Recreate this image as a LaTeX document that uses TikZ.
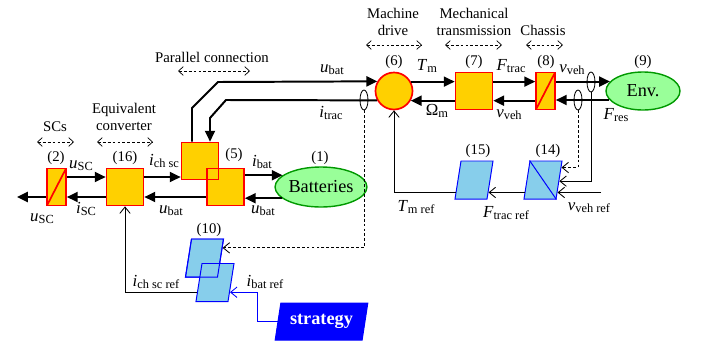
\documentclass[tikz,border=0pt]{standalone}
\usepackage{fontspec}
\setmainfont{Liberation Serif}
\usetikzlibrary{arrows.meta}
\usetikzlibrary{shapes.geometric}
\usetikzlibrary{calc}

\definecolor{blockyellow}{RGB}{255,208,0}
\definecolor{blockred}{RGB}{255,0,0}
\definecolor{envgreen}{RGB}{153,255,153}
\definecolor{envedge}{RGB}{0,153,0}
\definecolor{refblue}{RGB}{135,206,235}
\definecolor{refedge}{RGB}{0,0,255}

\newcommand{\sig}[2]{\textit{#1}\raisebox{-0.3ex}{\fontsize{8.8}{10}\selectfont #2}}

\tikzset{
	power/.style={line width=1.4pt, -{Triangle[length=2.7mm, width=2.5mm]}},
	ctrl/.style={line width=0.6pt, -{Straight Barb[length=1.6mm, width=2.6mm]}},
	sense/.style={ctrl, dash pattern=on 2pt off 1.5pt},
	rangearrow/.style={line width=0.5pt, dash pattern=on 2pt off 1.5pt, {Straight Barb[length=1.2mm, width=2.2mm]}-{Straight Barb[length=1.2mm, width=2.2mm]}},
	yblock/.style={draw=blockred, fill=blockyellow, line width=1.2pt, minimum width=0.925cm, minimum height=0.925cm, inner sep=0pt},
	convblock/.style={yblock, minimum width=0.475cm, path picture={\draw[blockred, line width=1.2pt] (path picture bounding box.south west) -- (path picture bounding box.north east);}},
	source/.style={ellipse, draw=envedge, fill=envgreen, line width=1pt, inner sep=0pt, font=\fontsize{13}{15}\selectfont},
	refblock/.style={trapezium, trapezium left angle=77, trapezium right angle=103, trapezium stretches=true, draw=refedge, fill=refblue, line width=0.7pt, minimum width=0.95cm, minimum height=0.95cm, inner sep=1pt},
	sensor/.style={ellipse, draw, line width=0.6pt, minimum width=0.2cm, minimum height=0.5cm, inner sep=0pt},
	siglabel/.style={font=\fontsize{12}{14}\selectfont, inner sep=1pt},
	numlabel/.style={font=\fontsize{10.5}{12}\selectfont, inner sep=1pt},
	caption/.style={font=\fontsize{10.5}{11.5}\selectfont, align=center, inner sep=1pt}
}

\begin{document}
\begin{tikzpicture}[x=0.025cm, y=-0.025cm]

	\useasboundingbox (0,0) rectangle (706,344);

	%Captions
	\node[caption] (csc) at (55,127) {SCs};
	\node[caption] (cconv) at (124,117) {Equivalent\\converter};
	\node[caption] (cpar) at (212,57) {Parallel connection};
	\node[caption] (cmach) at (393,22) {Machine\\drive};
	\node[caption] (cmech) at (474,22) {Mechanical\\transmission};
	\node[caption] (cchas) at (543,30) {Chassis};
	\draw[rangearrow] (37,142) -- (74,142);
	\draw[rangearrow] (97,142) -- (153,142);
	\draw[rangearrow] (178,71) -- (250,71);
	\draw[rangearrow] (366,45) -- (422,45);
	\draw[rangearrow] (445,45) -- (502,45);
	\draw[rangearrow] (526,45) -- (563,45);

	%Energy blocks
	\node[convblock] (b2) at (56.5,187) {};
	\node[yblock] (b16) at (125,187) {};
	\node[yblock] (p5a) at (200,161) {};
	\node[yblock] (p5b) at (225.5,187) {};
	\node[yblock, fill=none] (p5aedge) at (p5a) {};
	\node[source, minimum width=1.9cm, minimum height=1cm] (bat) at (321,187) {Batteries};
	\node[circle, draw=blockred, fill=blockyellow, line width=1.2pt, minimum size=0.925cm, inner sep=0pt] (c6) at (394,91) {};
	\node[yblock] (b7) at (474,91) {};
	\node[convblock] (b8) at (545.5,91) {};
	\node[source, minimum width=1.85cm, minimum height=0.95cm] (env) at (643,91) {Env.};

	%Numbers
	\node[numlabel] (l2) at (56,158) {(2)};
	\node[numlabel] (l16) at (125,158) {(16)};
	\node[numlabel] (l5) at (234,155) {(5)};
	\node[numlabel] (l1) at (320,158) {(1)};
	\node[numlabel] (l6) at (394,62) {(6)};
	\node[numlabel] (l7) at (474,62) {(7)};
	\node[numlabel] (l8) at (546,62) {(8)};
	\node[numlabel] (l9) at (643,62) {(9)};

	%Left power lines
	\coordinate (scend) at (17,197);
	\draw[power] (b2.west |- scend) -- (scend);
	\draw[power] (b2.east |- 0,177) -- (b16.west |- 0,177);
	\draw[power] (b16.west |- 0,197) -- (b2.east |- 0,197);
	\draw[power] (b16.east |- 0,177) -- (p5a.west |- 0,177);
	\draw[power] (p5b.west |- 0,197) -- (b16.east |- 0,197);
	\draw[power] (p5b.east |- bat.163.1) -- (bat.163.1);
	\draw[power] (bat.196.9) -- (p5b.east |- bat.196.9);

	%Upper power lines
	\draw[power] ([xshift=-0.2cm]p5a.north) -- ([xshift=-0.2cm]p5a.north |- 0,108) -- (218,82) -- (c6.150.9);
	\draw[power] (c6.209.1) -- (226,100) -- (210,118) -- ([xshift=0.25cm]p5a.north);
	\draw[power] (c6.29.1) -- (b7.west |- c6.29.1);
	\draw[power] (b7.west |- c6.330.9) -- (c6.330.9);
	\draw[power] (b7.east |- c6.29.1) -- (b8.west |- c6.29.1);
	\draw[power] (b8.west |- c6.330.9) -- (b7.east |- c6.330.9);
	\draw[power] (b8.east |- env.164.56) -- (env.164.56);
	\draw[power] (env.195.44) -- (b8.east |- env.195.44);

	%Sensors
	\node[sensor] (s1) at (364,100) {};
	\node[sensor] (s2) at (578,100) {};
	\node[sensor] (s3) at (591,82) {};

	%Variables
	\node[siglabel] (vusc) at (81,166) {\sig{u}{SC}};
	\node[siglabel] (visc) at (86,209) {\sig{i}{SC}};
	\node[siglabel] (vuscout) at (42,219) {\sig{u}{SC}};
	\node[siglabel] (vich) at (164,161) {\sig{i}{ch sc}};
	\node[siglabel] (vubat1) at (171,211) {\sig{u}{bat}};
	\node[siglabel] (vibat) at (262,162) {\sig{i}{bat}};
	\node[siglabel] (vubat2) at (263,211) {\sig{u}{bat}};
	\node[siglabel] (vubat3) at (332,70) {\sig{u}{bat}};
	\node[siglabel] (vitrac) at (331,113) {\sig{i}{trac}};
	\node[siglabel] (vtm) at (427,66) {\sig{T}{m}};
	\node[siglabel] (vom) at (437,111) {Ω\raisebox{-0.3ex}{\fontsize{8.8}{10}\selectfont m}};
	\node[siglabel] (vftrac) at (511,66) {\sig{F}{trac}};
	\node[siglabel] (vveh1) at (509,115) {\sig{v}{veh}};
	\node[siglabel] (vveh2) at (572,70) {\sig{v}{veh}};
	\node[siglabel] (vfres) at (616,115) {\sig{F}{res}};

	%Control blocks
	\node[refblock] (b15) at (474,180) {};
	\node[refblock] (b14) at (543,180) {};
	\draw[refedge, line width=0.7pt] (b14.top left corner) -- (b14.bottom right corner);
	\node[refblock] (p10a) at (204.5,258) {};
	\node[refblock] (p10b) at (215,282.5) {};
	\node[refblock, fill=none] (p10aedge) at (p10a) {};
	\node[refblock, trapezium left angle=75, trapezium right angle=105, fill=refedge, minimum width=2.325cm, minimum height=0.925cm, text=white, font=\fontsize{13}{15}\selectfont\bfseries] (strat) at (321.5,321.5) {strategy};
	\node[numlabel] (l14) at (548,151) {(14)};
	\node[numlabel] (l15) at (478,151) {(15)};
	\node[numlabel] (l10) at (209,230) {(10)};

	%Control lines
	\coordinate (b14in1) at ($(b14.top right corner)!0.18!(b14.bottom right corner)$);
	\coordinate (b14in2) at ($(b14.top right corner)!0.53!(b14.bottom right corner)$);
	\coordinate (b14in3) at ($(b14.top right corner)!0.82!(b14.bottom right corner)$);
	\coordinate (b14out) at ($(b14.top left corner)!0.82!(b14.bottom left corner)$);
	\coordinate (b15in) at ($(b15.top right corner)!0.82!(b15.bottom right corner)$);
	\coordinate (b15out) at ($(b15.top left corner)!0.82!(b15.bottom left corner)$);
	\coordinate (p10ain) at ($(p10a.top right corner)!0.24!(p10a.bottom right corner)$);
	\coordinate (p10bin) at ($(p10b.top right corner)!0.75!(p10b.bottom right corner)$);
	\coordinate (p10bout) at ($(p10b.top left corner)!0.75!(p10b.bottom left corner)$);
	\coordinate (vref) at (b14in3 -| 601,0);
	\draw[sense] (s1.south) |- (p10ain);
	\draw[sense] (s2.south) |- (b14in1);
	\draw[ctrl] (s3.south) |- (b14in2);
	\draw[ctrl] (vref) -- (b14in3);
	\draw[ctrl] (b14out) -- (b15in);
	\draw[ctrl] (b15out) -| (c6.south);
	\draw[ctrl] (p10bout) -| (b16.south);
	\draw[ctrl, refedge] (strat.west) -- (strat.west -| 257,0) |- (p10bin);

	%Reference variables
	\node[siglabel] (vtmref) at (416,207) {\sig{T}{m ref}};
	\node[siglabel] (vftref) at (506,213) {\sig{F}{trac ref}};
	\node[siglabel] (vvref) at (589,208) {\sig{v}{veh ref}};
	\node[siglabel] (vichref) at (156,282) {\sig{i}{ch sc ref}};
	\node[siglabel] (vibref) at (265,282) {\sig{i}{bat ref}};

\end{tikzpicture}
\end{document}
